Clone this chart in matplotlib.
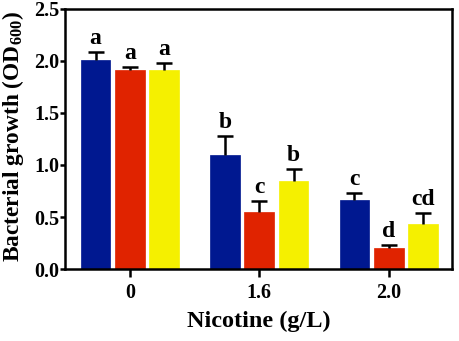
import numpy as np
import matplotlib.pyplot as plt

# Data
nicotine = ['0', '1.6', '2.0']
blue_vals = [2.01, 1.10, 0.66]
blue_err = [0.075, 0.18, 0.07]
red_vals = [1.915, 0.55, 0.205]
red_err = [0.03, 0.10, 0.025]
yellow_vals = [1.915, 0.85, 0.43]
yellow_err = [0.065, 0.11, 0.105]
blue_letters = ['a', 'b', 'c']
red_letters = ['a', 'c', 'd']
yellow_letters = ['a', 'b', 'cd']

plt.rcParams['font.family'] = ['Liberation Serif', 'DejaVu Serif']
plt.rcParams['font.weight'] = 'bold'
plt.rcParams['mathtext.fontset'] = 'custom'
plt.rcParams['mathtext.rm'] = 'Liberation Serif:bold'
plt.rcParams['mathtext.bf'] = 'Liberation Serif:bold'

fig = plt.figure(figsize=(4.59, 3.41), dpi=100)
ax = fig.add_axes([0.142, 0.211, 0.843, 0.763])

x = np.arange(len(nicotine))
width = 0.23
step = 0.265
series = [
    (blue_vals, blue_err, blue_letters, '#001890', -step),
    (red_vals, red_err, red_letters, '#E02300', 0),
    (yellow_vals, yellow_err, yellow_letters, '#F5F000', step),
]

for vals, errs, letters, color, off in series:
    ax.bar(x + off, vals, width, color=color, edgecolor=color, linewidth=0.5,
           zorder=2)
    eb = ax.errorbar(x + off, vals, yerr=[np.zeros(len(errs)), errs],
                     fmt='none', ecolor='black', elinewidth=1.8,
                     capsize=6, capthick=1.8, zorder=3)
    eb.lines[1][0].set_visible(False)  # hide lower caps
    for xi, v, e, t in zip(x + off, vals, errs, letters):
        ax.text(xi, v + e + 0.03, t, ha='center', va='bottom',
                fontsize=17, fontweight='bold')

ax.set_xlim(-0.5, 2.49)
ax.set_ylim(0, 2.5)
ax.set_yticks([0.0, 0.5, 1.0, 1.5, 2.0, 2.5])
ax.set_yticklabels(['0.0', '0.5', '1.0', '1.5', '2.0', '2.5'])
ax.set_xticks(x)
ax.set_xticklabels(nicotine)

for s in ax.spines.values():
    s.set_linewidth(1.8)
ax.tick_params(axis='y', which='major', direction='out', width=1.8,
               length=3.5, labelsize=14.5, pad=0.5)
ax.tick_params(axis='x', which='major', direction='out', width=1.8,
               length=6, labelsize=14.5, pad=4)

ax.set_xlabel('Nicotine (g/L)', fontsize=17.5, fontweight='bold', labelpad=6)
ax.set_ylabel('Bacterial growth (OD$_{600}$)', fontsize=16.8,
              fontweight='bold', va='center')
ax.yaxis.set_label_coords(-0.135, 0.51)

fig.savefig('out.png', dpi=100)
